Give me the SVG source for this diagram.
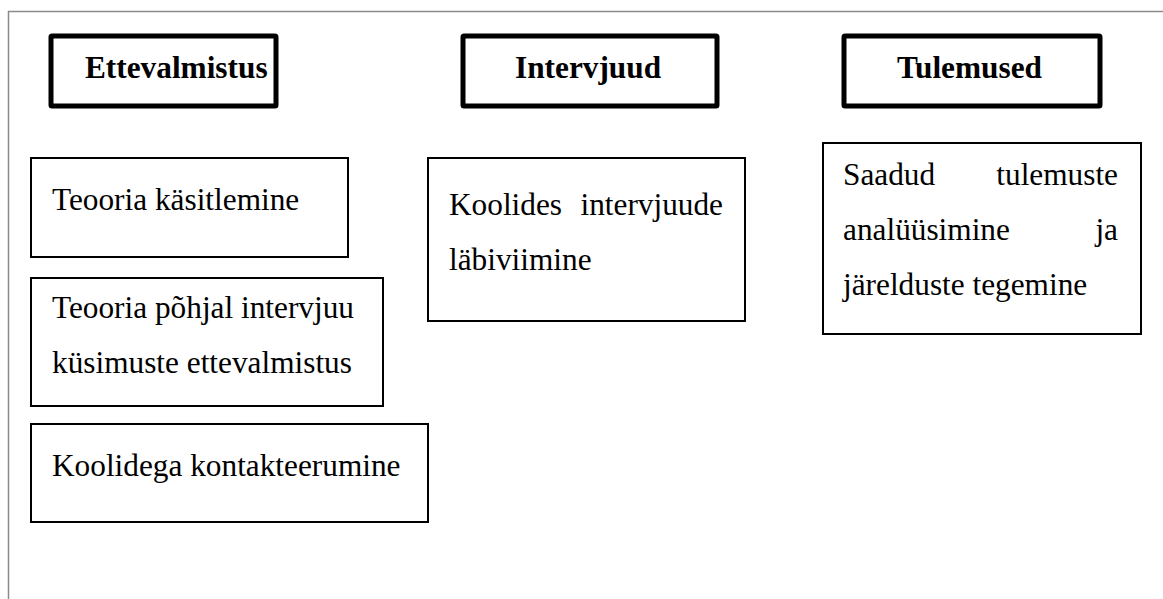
<svg xmlns="http://www.w3.org/2000/svg" width="1163" height="599" viewBox="0 0 1163 599">
<style>
.frame{stroke:#8a8a8a;stroke-width:1.5;fill:none}
.head{fill:#fff;stroke:#000;stroke-width:5;stroke-linejoin:round}
.box{fill:#fff;stroke:#000;stroke-width:2}
.ht{font-family:"Liberation Serif","Times New Roman",serif;font-weight:bold;font-size:31.3px;fill:#000}
.t{font-family:"Liberation Serif","Times New Roman",serif;font-size:31.3px;fill:#000}
</style>
<rect width="1163" height="599" fill="#fff"/>
<g id="frame">
<line class="frame" x1="8" y1="11.5" x2="1163" y2="11.5"/>
<line class="frame" x1="8.5" y1="11" x2="8.5" y2="599"/>
</g>
<g id="h1"><rect class="head" x="51" y="36" width="225" height="70" rx="1"/><text class="ht" x="85" y="78">Ettevalmistus</text></g>
<g id="h2"><rect class="head" x="463" y="36" width="254" height="70" rx="1"/><text class="ht" x="515" y="78">Intervjuud</text></g>
<g id="h3"><rect class="head" x="844" y="36" width="256" height="70" rx="1"/><text class="ht" x="897" y="78">Tulemused</text></g>
<g id="n1"><rect class="box" x="31" y="158" width="317" height="99"/><text class="t" x="52" y="210">Teooria käsitlemine</text></g>
<g id="n2"><rect class="box" x="31" y="278" width="352" height="128"/><text class="t" x="52" y="318">Teooria põhjal intervjuu</text><text class="t" x="52" y="373">küsimuste ettevalmistus</text></g>
<g id="n3"><rect class="box" x="31" y="424" width="397" height="98"/><text class="t" x="52" y="476">Koolidega kontakteerumine</text></g>
<g id="n4"><rect class="box" x="428" y="158" width="317" height="163"/><text class="t" x="449" y="215">Koolides</text><text class="t" x="723" y="215" text-anchor="end">intervjuude</text><text class="t" x="449" y="270">läbiviimine</text></g>
<g id="n5"><rect class="box" x="823" y="143" width="318" height="191"/><text class="t" x="843" y="185">Saadud</text><text class="t" x="1118" y="185" text-anchor="end">tulemuste</text><text class="t" x="843" y="240">analüüsimine</text><text class="t" x="1118" y="240" text-anchor="end">ja</text><text class="t" x="843" y="295">järelduste tegemine</text></g>
<g id="connectors"/>
</svg>
